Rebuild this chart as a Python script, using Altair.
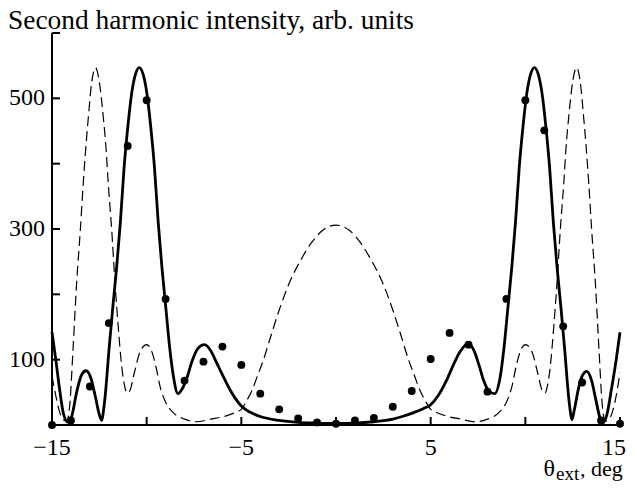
import altair as alt
import pandas as pd

# ---- data ----
solid_x = [-15.0, -14.8, -14.6, -14.4, -14.15, -13.95, -13.7, -13.45, -13.2, -12.95, -12.7, -12.5,
           -12.37, -12.29, -12.19, -11.99, -11.79, -11.59, -11.39, -11.19, -10.99, -10.79, -10.59,
           -10.39, -10.19, -9.99, -9.79, -9.59, -9.39, -9.19, -8.99, -8.79, -8.59, -8.35, -8.15,
           -7.9, -7.6, -7.3, -6.95, -6.6, -6.3, -5.95, -5.6, -5.3, -5.0, -4.5, -4.0, -3.0, -2.0,
           -1.0, 0.0, 1.0, 2.0, 3.0, 3.5, 4.1, 4.6, 5.0, 5.4, 5.85, 6.2, 6.55, 7.0, 7.3, 7.55,
           7.8, 8.05, 8.38, 8.68, 8.88, 9.08, 9.28, 9.48, 9.68, 9.88, 10.08, 10.28, 10.48, 10.68,
           10.88, 11.08, 11.28, 11.48, 11.68, 11.88, 12.08, 12.28, 12.38, 12.46, 12.6, 12.8, 13.0,
           13.25, 13.5, 13.75, 13.95, 14.1, 14.3, 14.55, 14.8, 15.0]
solid_y = [142, 100, 55, 18, 4, 14, 50, 76, 83, 72, 42, 16,
           7, 20, 45, 115, 180, 240, 310, 395, 458, 508, 537,
           547, 537, 508, 458, 395, 310, 240, 180, 120, 75, 48, 54,
           70, 98, 117, 123, 113, 95, 74, 54, 40, 29, 19, 13, 7, 4,
           3, 2.5, 3, 5, 9, 13, 19, 25, 31, 45, 69, 92, 112, 125, 113, 92,
           68, 53, 48, 75, 120, 180, 240, 310, 395, 458, 508, 537, 547, 537,
           508, 458, 395, 310, 240, 180, 115, 45, 20, 8, 25, 55, 75,
           82, 68, 35, 10, 3, 15, 55, 100, 142]

dashed_x = [-15.0, -14.8, -14.6, -14.4, -14.22, -14.05, -13.9, -13.7, -13.5, -13.35, -13.2, -13.08,
            -12.9, -12.7, -12.5, -12.29, -12.15, -12.03, -11.85, -11.67, -11.5, -11.32, -11.15,
            -11.05, -10.9, -10.65, -10.35, -10.0, -9.7, -9.5, -9.3, -9.0, -8.6, -8.0, -7.4, -6.6,
            -5.8, -5.25, -5.0, -4.7, -4.45, -4.15, -3.83, -3.4, -3.0, -2.4, -1.85, -1.32, -0.7,
            0.0, 0.7, 1.32, 1.85, 2.4, 3.0, 3.4, 3.83, 4.15, 4.45, 4.7, 5.0, 5.25, 5.8, 6.6, 7.4,
            8.0, 8.6, 9.0, 9.3, 9.5, 9.7, 10.0, 10.35, 10.65, 10.9, 11.05, 11.15, 11.32, 11.5,
            11.67, 11.85, 12.03, 12.15, 12.29, 12.5, 12.7, 12.9, 13.08, 13.2, 13.35, 13.5, 13.7,
            13.9, 14.05, 14.22, 14.4, 14.6, 14.8, 15.0]
dashed_y = [75, 45, 20, 8, 6, 35, 110, 217, 300, 370, 430, 471,
            525, 547, 525, 471, 425, 370, 300, 217, 150, 90, 58,
            49, 52, 80, 112, 123, 110, 88, 60, 35, 19, 9, 5, 9,
            14, 20, 24, 38, 52, 75, 100, 140, 176, 222, 253, 278, 298,
            306, 298, 278, 253, 222, 176, 140, 100, 75, 52, 38, 24, 20, 14, 9, 5,
            9, 19, 35, 60, 88, 110, 123, 112, 80, 52, 49, 58, 90, 150,
            217, 300, 370, 425, 471, 525, 547, 525, 471, 430, 370, 300, 217,
            110, 35, 6, 8, 20, 45, 80]

exp_x = list(range(-15, 16))
exp_y = [0, 7, 59, 156, 427, 497, 193, 68, 97, 120, 92, 48, 24, 10, 4, 2,
         7, 11, 28, 52, 101, 141, 123, 51, 193, 497, 451, 151, 65, 7, 2]

x_ticks = [-15, -10, -5, 0, 5, 10, 15]
y_ticks = [100, 200, 300, 400, 500, 600]
x_label_vals = [-15, -5, 5]
x_label_text = ["\u221215", "\u22125", "5"]
x_last_val = [15]
x_last_text = ["15"]
y_label_vals = [100, 300, 500]
y_label_text = ["100", "300", "500"]

title_text = "Second harmonic intensity, arb. units"

W, H = 568, 392
FONT = "Liberation Serif"
LBL = 24

xs = alt.Scale(domain=[-15, 15], nice=False, zero=False)
ys = alt.Scale(domain=[0, 600], nice=False, zero=True)

solid_df = pd.DataFrame({"x": solid_x, "y": solid_y})
dashed_df = pd.DataFrame({"x": dashed_x, "y": dashed_y})
exp_df = pd.DataFrame({"x": exp_x, "y": exp_y})
xt_df = pd.DataFrame({"v": x_ticks})
yt_df = pd.DataFrame({"v": y_ticks})
xl_df = pd.DataFrame({"v": x_label_vals, "t": x_label_text})
xlast_df = pd.DataFrame({"v": x_last_val, "t": x_last_text})
yl_df = pd.DataFrame({"v": y_label_vals, "t": y_label_text})


def X(field):
    return alt.X(field, scale=xs, axis=None)


def Y(field):
    return alt.Y(field, scale=ys, axis=None)


dashed = alt.Chart(dashed_df).mark_line(
    color="black", strokeWidth=1.2, strokeDash=[10, 5], interpolate="monotone"
).encode(x=X("x:Q"), y=Y("y:Q"))

solid = alt.Chart(solid_df).mark_line(
    color="black", strokeWidth=2.8, interpolate="monotone"
).encode(x=X("x:Q"), y=Y("y:Q"))

points = alt.Chart(exp_df).mark_circle(color="black", opacity=1, size=62).encode(
    x=X("x:Q"), y=Y("y:Q"))

# axis lines
x_domain = alt.Chart(pd.DataFrame({"a": [0]})).mark_rule(color="black", strokeWidth=2).encode(
    x=alt.value(0), x2=alt.value(W), y=alt.value(H))
y_domain = alt.Chart(pd.DataFrame({"a": [0]})).mark_rule(color="black", strokeWidth=2).encode(
    x=alt.value(0), y=alt.value(0), y2=alt.value(H))

# inward ticks
xticks = alt.Chart(xt_df).mark_rule(color="black", strokeWidth=2).encode(
    x=X("v:Q"), y=alt.value(H), y2=alt.value(H - 8))
yticks = alt.Chart(yt_df).mark_rule(color="black", strokeWidth=2).encode(
    y=Y("v:Q"), x=alt.value(0), x2=alt.value(8))

# tick labels
xlabels = alt.Chart(xl_df).mark_text(
    font=FONT, fontSize=LBL, color="black", align="center", baseline="alphabetic"
).encode(x=X("v:Q"), y=alt.value(H + 30), text="t:N")
xlast = alt.Chart(xlast_df).mark_text(
    font=FONT, fontSize=LBL, color="black", align="center", baseline="alphabetic", dx=-6
).encode(x=X("v:Q"), y=alt.value(H + 30), text="t:N")
ylabels = alt.Chart(yl_df).mark_text(
    font=FONT, fontSize=LBL, color="black", align="right", baseline="middle"
).encode(y=Y("v:Q"), x=alt.value(-7), text="t:N")

title = alt.Chart(pd.DataFrame({"t": [title_text]})).mark_text(
    font=FONT, fontSize=27.4, color="black", align="left", baseline="alphabetic"
).encode(text="t:N", x=alt.value(-44), y=alt.value(-4))

xl1 = alt.Chart(pd.DataFrame({"t": ["θ"]})).mark_text(
    font=FONT, fontSize=24, color="black", align="right", baseline="alphabetic"
).encode(text="t:N", x=alt.value(503), y=alt.value(H + 51))
xl2 = alt.Chart(pd.DataFrame({"t": ["ext"]})).mark_text(
    font=FONT, fontSize=19, color="black", align="left", baseline="alphabetic"
).encode(text="t:N", x=alt.value(504), y=alt.value(H + 55))
xl3 = alt.Chart(pd.DataFrame({"t": [", deg"]})).mark_text(
    font=FONT, fontSize=22, color="black", align="left", baseline="alphabetic"
).encode(text="t:N", x=alt.value(528), y=alt.value(H + 51))

chart = alt.layer(
    dashed, solid, x_domain, y_domain, xticks, yticks, points,
    xlabels, xlast, ylabels, title, xl1, xl2, xl3
).properties(
    width=W, height=H,
    autosize=alt.AutoSizeParams(type="none"),
    padding={"left": 44, "top": 25, "right": 6, "bottom": 58},
    background="white",
).configure_view(stroke=None)

chart.save("out.html", embed_options={"renderer": "svg", "actions": False})
